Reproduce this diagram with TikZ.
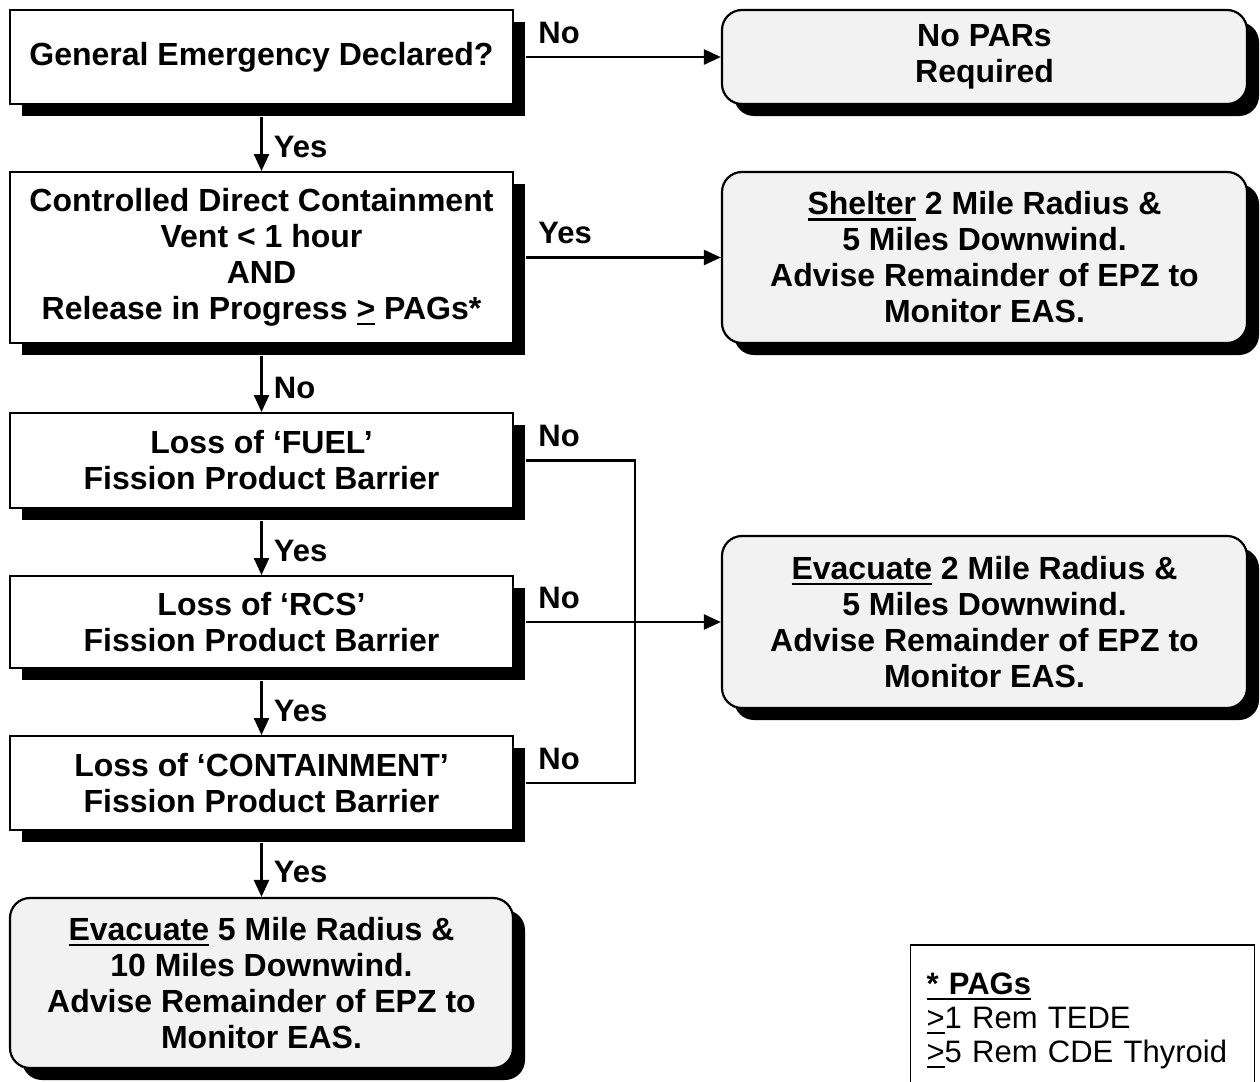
\documentclass[tikz,border=0pt]{standalone}
\usepackage{fontspec}
\setmainfont{Liberation Sans}
\usetikzlibrary{arrows.meta,shadows}
\newcommand{\sottol}[1]{\leavevmode\setbox0=\hbox{#1}\rlap{\rule[-2.8pt]{\wd0}{1.2pt}}\box0\relax}

\begin{document}
\begin{tikzpicture}[x=0.5pt,y=-0.5pt,
    font=\bfseries\fontsize{16}{18}\selectfont,
    ombra/.style={drop shadow={shadow xshift=6pt,shadow yshift=-6pt,fill=black,opacity=1}},
    domanda/.style={draw,line width=1pt,fill=white,ombra,minimum width=251.5pt,align=center,inner sep=2pt},
    azione/.style={draw,line width=1.1pt,fill=gray!10,rounded corners=10pt,ombra,minimum width=262.5pt,align=center,inner sep=2pt},
    nota/.style={draw,line width=0.8pt,anchor=north,text width=156pt,inner xsep=8pt,minimum height=76pt,align=left,
                 font=\mdseries\fontsize{15.5}{17}\selectfont},
    freccia/.style={line width=1.2pt,-{Triangle[length=8.5pt,width=7.5pt]}},
    linea/.style={line width=1.2pt},
    etich/.style={inner sep=0pt,anchor=base west,font=\bfseries\fontsize{15.5}{18}\selectfont}]

  \useasboundingbox (0,0) rectangle (1260,1082);

  % ======================= colonna sinistra: le domande =======================
  \node[domanda,minimum height=47pt]   (ge)  at (261.5,  57.0) {General Emergency Declared?};
  \node[domanda,minimum height=85.5pt] (cdc) at (261.5, 257.5) {Controlled Direct Containment\\Vent < 1 hour\\AND\\Release in Progress \sottol{>} PAGs*};
  \node[domanda,minimum height=47.5pt] (fu)  at (261.5, 460.5) {Loss of ‘FUEL’\\Fission Product Barrier};
  \node[domanda,minimum height=46pt]   (rcs) at (261.5, 622.0) {Loss of ‘RCS’\\Fission Product Barrier};
  \node[domanda,minimum height=47pt]   (cnt) at (261.5, 783.0) {Loss of ‘CONTAINMENT’\\Fission Product Barrier};
  \node[azione,minimum width=251.5pt,minimum height=85pt] (ev5) at (261.5, 983.0)
       {\sottol{Evacuate} 5 Mile Radius \&\\10 Miles Downwind.\\Advise Remainder of EPZ to\\Monitor EAS.};

  % ======================= colonna destra: le azioni ==========================
  \node[azione,minimum height=47pt]   (np)  at (984.5,  57.0) {No PARs\\Required};
  \node[azione,minimum height=85.5pt] (sh)  at (984.5, 257.5)
       {\sottol{Shelter} 2 Mile Radius \&\\5 Miles Downwind.\\Advise Remainder of EPZ to\\Monitor EAS.};
  \node[azione,minimum height=86pt]   (ev2) at (984.5, 622.0)
       {\sottol{Evacuate} 2 Mile Radius \&\\5 Miles Downwind.\\Advise Remainder of EPZ to\\Monitor EAS.};
  \node[nota] (pags) at (1082.5, 944.0)
       {\textbf{\sottol{* PAGs}}\\\sottol{>}1 Rem TEDE\\\sottol{>}5 Rem CDE Thyroid};

  % ======================= frecce verso il basso ==============================
  \draw[freccia] ([yshift=-6pt]ge.south)  -- (cdc.north);
  \draw[freccia] ([yshift=-6pt]cdc.south) -- (fu.north);
  \draw[freccia] ([yshift=-6pt]fu.south)  -- (rcs.north);
  \draw[freccia] ([yshift=-6pt]rcs.south) -- (cnt.north);
  \draw[freccia] ([yshift=-6pt]cnt.south) -- (ev5.north);

  \node[etich] (y1) at ([xshift=6pt,yshift=7pt]cdc.north) {Yes};
  \node[etich] (n2) at ([xshift=6pt,yshift=7pt]fu.north)  {No};
  \node[etich] (y3) at ([xshift=6pt,yshift=7pt]rcs.north) {Yes};
  \node[etich] (y4) at ([xshift=6pt,yshift=7pt]cnt.north) {Yes};
  \node[etich] (y5) at ([xshift=6pt,yshift=7pt]ev5.north) {Yes};

  % ======================= rami verso destra ==================================
  \coordinate (snodo) at (635, 622);   % incrocio della linea verticale
  \draw[freccia] ([xshift=6pt]ge.east)  -- (np.west);
  \draw[freccia] ([xshift=6pt]cdc.east) -- (sh.west);
  \draw[freccia] ([xshift=6pt]rcs.east) -- (ev2.west);
  \draw[linea]   ([xshift=6pt]fu.east) -| (snodo) |- ([xshift=6pt]cnt.east);

  \node[etich] (n1) at ([xshift=12pt,yshift=7pt]ge.east)  {No};
  \node[etich] (y2) at ([xshift=12pt,yshift=7pt]cdc.east) {Yes};
  \node[etich] (n3) at ([xshift=12pt,yshift=7pt]fu.east)  {No};
  \node[etich] (n4) at ([xshift=12pt,yshift=7pt]rcs.east) {No};
  \node[etich] (n5) at ([xshift=12pt,yshift=7pt]cnt.east) {No};

\end{tikzpicture}
\end{document}
